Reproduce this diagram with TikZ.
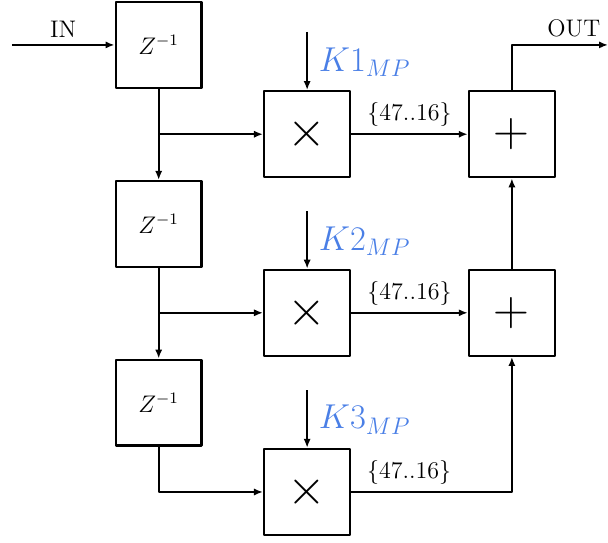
\documentclass[tikz,border=0pt]{standalone}
\usepackage{amsmath,amssymb}
\usepackage{xcolor}
\usepackage{tikz}
\usetikzlibrary{arrows.meta}
\definecolor{coef}{HTML}{4A7FE6}
\definecolor{ink}{HTML}{000000}
\tikzset{fir/.style={line join=round,>={Latex[length=4.5pt,width=3.6pt]},line width=1.1pt},
  blk/.style={draw,ink,line width=1.2pt,minimum size=1.51cm,inner sep=0pt},
  klab/.style={coef,anchor=base west,font=\LARGE}}

\begin{document}
\begin{tikzpicture}[fir,font=\large]
  \useasboundingbox(0,0)rectangle(10.69,-9.54);
  % delay line
  \node[blk](z1)at(2.79,-0.79){$Z^{-1}$};\node[blk](z2)at(2.79,-3.94){$Z^{-1}$};\node[blk](z3)at(2.79,-7.08){$Z^{-1}$};
  % multipliers and adders
  \node[blk](m1)at(5.40,-2.36){\Huge$\times$};\node[blk](m2)at(5.40,-5.50){\Huge$\times$};\node[blk](m3)at(5.40,-8.65){\Huge$\times$};
  \node[blk](a1)at(9.00,-2.36){\Huge$+$};\node[blk](a2)at(9.00,-5.50){\Huge$+$};
  \coordinate(in)at(0.21,-0.79);\coordinate(out)at(10.69,-0.79);
  \coordinate(k1)at(5.40,-0.56);\coordinate(k2)at(5.40,-3.71);\coordinate(k3)at(5.40,-6.86);
  \draw[->](in)--node[above]{IN}(z1);
  \draw[->](a1)--(a1|-out)--(out)node[above left]{OUT};
  \draw[->](z1)--(z2);\draw[->](z2)--(z3);
  \draw[->](z1|-m1)--(m1);\draw[->](z2|-m2)--(m2);\draw[->](z3)|-(m3);
  % coefficients
  \draw[->](k1)--(m1);\node[klab](c1)at(5.47,-1.26){$K1_{MP}$};
  \draw[->](k2)--(m2);\node[klab](c2)at(5.47,-4.40){$K2_{MP}$};
  \draw[->](k3)--(m3);\node[klab](c3)at(5.47,-7.54){$K3_{MP}$};
  \draw[->](m1)--node[above]{\{47..16\}}(a1);
  \draw[->](m2)--node[above]{\{47..16\}}(a2);
  \draw[->](m3)-|node[pos=0.18,above]{\{47..16\}}(a2);
  \draw[->](a2)--(a1);
\end{tikzpicture}
\end{document}
